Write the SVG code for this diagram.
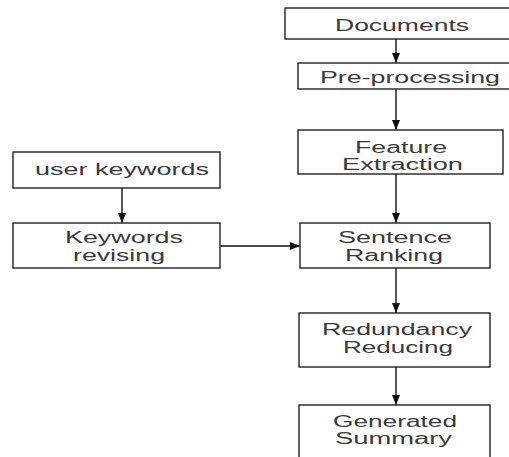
<svg xmlns="http://www.w3.org/2000/svg" width="509" height="457" viewBox="0 0 509 457">
<defs>
<marker id="ah" markerUnits="userSpaceOnUse" markerWidth="10" markerHeight="10" viewBox="0 0 10 10" refX="10" refY="5" orient="auto">
<path d="M0,1 L10,5 L0,9 Z" fill="#111"/>
</marker>
<style>
.box{fill:#fff;stroke:#222;stroke-width:1.4}
.t{font-family:"Liberation Sans",Arial,sans-serif;font-size:16px;fill:#3a3a3a}
.c{stroke:#111;stroke-width:1.4;fill:none;marker-end:url(#ah)}
</style>
</defs>
<rect width="509" height="457" fill="#fff"/>
<g id="connectors">
<line class="c" x1="396" y1="39" x2="396" y2="63"/>
<line class="c" x1="396" y1="89" x2="396" y2="130"/>
<line class="c" x1="396" y1="174" x2="396" y2="223"/>
<line class="c" x1="396" y1="268" x2="396" y2="313"/>
<line class="c" x1="396" y1="367" x2="396" y2="405"/>
<line class="c" x1="122" y1="188" x2="122" y2="223"/>
<line class="c" x1="220" y1="246" x2="300" y2="246"/>
</g>
<g id="documents">
<rect class="box" x="285" y="8" width="230" height="31"/>
<text class="t" x="335" y="31" textLength="134" lengthAdjust="spacingAndGlyphs">Documents</text>
</g>
<g id="preprocessing">
<rect class="box" x="298" y="63" width="220" height="26"/>
<text class="t" x="320" y="82.5" textLength="180" lengthAdjust="spacingAndGlyphs">Pre-processing</text>
</g>
<g id="feature-extraction">
<rect class="box" x="298" y="130" width="205" height="44"/>
<text class="t" x="355" y="152.5" textLength="92" lengthAdjust="spacingAndGlyphs">Feature</text>
<text class="t" x="342" y="170" textLength="121" lengthAdjust="spacingAndGlyphs">Extraction</text>
</g>
<g id="user-keywords">
<rect class="box" x="13" y="152" width="207" height="36"/>
<text class="t" x="35" y="175" textLength="174" lengthAdjust="spacingAndGlyphs">user keywords</text>
</g>
<g id="keywords-revising">
<rect class="box" x="13" y="223" width="207" height="45"/>
<text class="t" x="65" y="242.5" textLength="118" lengthAdjust="spacingAndGlyphs">Keywords</text>
<text class="t" x="73" y="260.5" textLength="92" lengthAdjust="spacingAndGlyphs">revising</text>
</g>
<g id="sentence-ranking">
<rect class="box" x="300" y="223" width="190" height="45"/>
<text class="t" x="338" y="242.5" textLength="114" lengthAdjust="spacingAndGlyphs">Sentence</text>
<text class="t" x="345" y="260.5" textLength="98" lengthAdjust="spacingAndGlyphs">Ranking</text>
</g>
<g id="redundancy-reducing">
<rect class="box" x="299" y="313" width="191" height="54"/>
<text class="t" x="322" y="335" textLength="150" lengthAdjust="spacingAndGlyphs">Redundancy</text>
<text class="t" x="343" y="353" textLength="110" lengthAdjust="spacingAndGlyphs">Reducing</text>
</g>
<g id="generated-summary">
<rect class="box" x="299" y="405" width="191" height="60"/>
<text class="t" x="333" y="426.5" textLength="124" lengthAdjust="spacingAndGlyphs">Generated</text>
<text class="t" x="335" y="444" textLength="117" lengthAdjust="spacingAndGlyphs">Summary</text>
</g>
</svg>
